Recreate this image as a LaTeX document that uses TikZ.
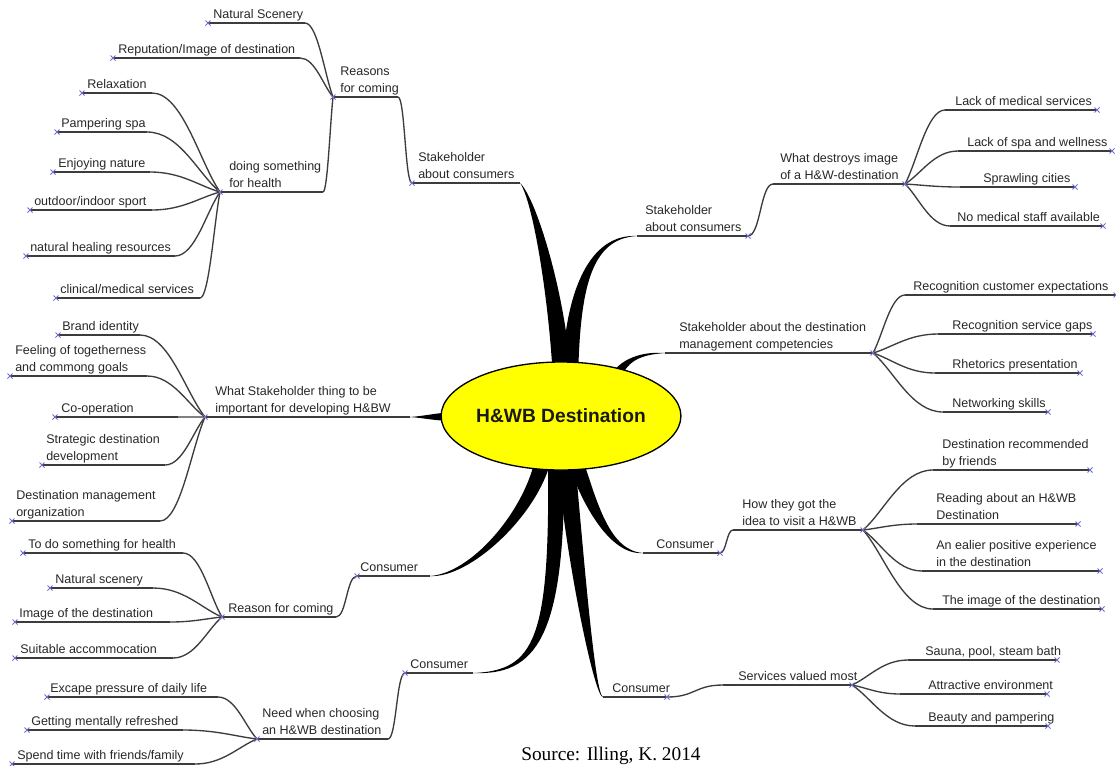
\documentclass[tikz,border=0pt]{standalone}
\usepackage{fontspec}
\setmainfont{Liberation Sans}
\newfontfamily\srcfont{Liberation Serif}
\usetikzlibrary{calc,shapes.geometric}
\definecolor{txt}{RGB}{40,40,40}
\definecolor{ln}{RGB}{60,60,60}
\definecolor{mk}{RGB}{110,110,205}
\definecolor{hubyellow}{RGB}{255,255,0}
\tikzset{
  tp/.style={anchor=south west, inner sep=0pt, align=left, text=txt,
    font=\fontsize{9.4}{12.75}\selectfont},
  uline/.style={draw=ln, line width=1.1pt},
  conn/.style={draw=ln, line width=1pt},
  xm/.style={draw=mk, line width=0.6pt},
  stemfill/.style={fill=black},
}
% topic: name, left end, right end, y of the underline, x of the text, text
\newcommand\tpc[6]{%
  \coordinate (#1-a) at (#2,#4);
  \coordinate (#1-b) at (#3,#4);
  \draw[uline] (#1-a) -- (#1-b);
  \node[tp] (#1) at (#5,#4) {#6\rule[-3.3pt]{0pt}{1pt}};
}
% branch from a junction to a sub-topic
\newcommand\tfan[2]{\draw[conn] (#1) .. controls ($(#1)!0.3!(#2)$) and ($(#2)!0.45!(#2 -| #1)$) .. (#2);}
% S-shaped link between two topic lines
\newcommand\tlink[2]{\draw[conn] (#1) .. controls ($(#1)!0.5!(#1 -| #2)$) and ($(#2)!0.5!(#2 -| #1)$) .. (#2);}
% small mark at the free end of a topic line
\newcommand\tipmark[1]{\draw[xm] (#1) +(-2.5,-2.5) -- +(2.5,2.5) +(-2.5,2.5) -- +(2.5,-2.5);}
% tapered main branch: start, control 1, control 2, end, half width, shift of control 2
\newcommand\stem[6]{\fill[stemfill] ($(#1)+(-#5,0)$) .. controls ($(#2)+(-#5,0)$) and ($(#3)+(#6)$) .. (#4)
  .. controls ($(#3)-(#6)$) and ($(#2)+(#5,0)$) .. ($(#1)+(#5,0)$) -- cycle;}

\begin{document}
\begin{tikzpicture}[x=0.75pt,y=-0.75pt]
\useasboundingbox (0,0) rectangle (1116,765);
\clip (0,0) rectangle (1116,765);
\fill[white] (0,0) rectangle (1116,765);

% ---------- upper left: stakeholder about consumers
\tpc{sa}{412}{520}{183}{418}{Stakeholder\\about consumers}
\tpc{rc}{333}{398}{97}{340}{Reasons\\for coming}
\tpc{ns}{208}{305}{23}{213}{Natural Scenery}
\tpc{rep}{113}{300}{58}{118}{Reputation/Image of destination}
\tpc{dsh}{220}{323}{192}{229}{doing something\\for health}
\tpc{relax}{82}{152}{93}{87}{Relaxation}
\tpc{pamp}{57}{147}{132}{61}{Pampering spa}
\tpc{enj}{53}{150}{172}{58}{Enjoying nature}
\tpc{sport}{30}{152}{210}{34}{outdoor/indoor sport}
\tpc{heal}{26}{175}{256}{30}{natural healing resources}
\tpc{clin}{56}{200}{298}{60}{clinical/medical services}

% ---------- left: what matters for development
\tpc{wst}{205}{410}{417}{215}{What Stakeholder thing to be\\important for developing H\&BW}
\tpc{brand}{58}{140}{335}{62}{Brand identity}
\tpc{feel}{10}{147}{376}{15}{Feeling of togetherness\\and commong goals}
\tpc{coop}{55}{178}{417}{61}{Co-operation}
\tpc{strat}{42}{165}{465}{46}{Strategic destination\\development}
\tpc{dmo}{12}{160}{521}{16}{Destination management\\organization}

% ---------- lower left: consumers
\tpc{cl}{357}{430}{576}{360}{Consumer}
\tpc{rfc}{222}{336}{617}{228}{Reason for coming}
\tpc{todo}{23}{183}{553}{28}{To do something for health}
\tpc{nsc}{50}{153}{588}{55}{Natural scenery}
\tpc{img}{15}{170}{622}{19}{Image of the destination}
\tpc{suit}{15}{173}{658}{20}{Suitable accommocation}
\tpc{cb}{405}{473}{673}{410}{Consumer}
\tpc{need}{257}{388}{739}{262}{Need when choosing\\an H\&WB destination}
\tpc{esc}{47}{218}{697}{50}{Excape pressure of daily life}
\tpc{fresh}{27}{183}{730}{31}{Getting mentally refreshed}
\tpc{spend}{12}{195}{764}{17}{Spend time with friends/family}

% ---------- upper right
\tpc{sr}{637}{748}{236}{645}{Stakeholder\\about consumers}
\tpc{wd}{773}{905}{184}{780}{What destroys image\\of a H\&W-destination}
\tpc{lms}{945}{1097}{110}{955}{Lack of medical services}
\tpc{lsw}{958}{1112}{151}{967}{Lack of spa and wellness}
\tpc{spr}{960}{1075}{187}{983}{Sprawling cities}
\tpc{nms}{950}{1103}{226}{957}{No medical staff available}

\tpc{sdm}{665}{873}{353}{679}{Stakeholder about the destination\\management competencies}
\tpc{rce}{905}{1116}{295}{913}{Recognition customer expectations}
\tpc{rsg}{938}{1093}{334}{952}{Recognition service gaps}
\tpc{rp}{935}{1080}{373}{952}{Rhetorics presentation}
\tpc{nsk}{943}{1048}{412}{952}{Networking skills}

% ---------- lower right
\tpc{cr}{643}{720}{553}{656}{Consumer}
\tpc{how}{733}{863}{530}{742}{How they got the\\idea to visit a H\&WB}
\tpc{drf}{933}{1090}{470}{942}{Destination recommended\\by friends}
\tpc{rab}{917}{1078}{524}{936}{Reading about an H\&WB\\Destination}
\tpc{epe}{922}{1100}{571}{936}{An ealier positive experience\\in the destination}
\tpc{tid}{933}{1102}{609}{942}{The image of the destination}

\tpc{cs}{603}{667}{697}{612}{Consumer}
\tpc{svm}{723}{852}{685}{738}{Services valued most}
\tpc{spb}{908}{1057}{660}{925}{Sauna, pool, steam bath}
\tpc{ae}{900}{1047}{694}{928}{Attractive environment}
\tpc{bp}{915}{1048}{726}{928}{Beauty and pampering}

% ---------- thin connectors
\tlink{sa-a}{rc-b}
\foreach \c in {ns,rep,dsh} {\tfan{rc-a}{\c-b}}
\foreach \c in {relax,pamp,enj,sport,heal,clin} {\tfan{dsh-a}{\c-b}}
\foreach \c in {brand,feel,coop,strat,dmo} {\tfan{wst-a}{\c-b}}
\tlink{cl-a}{rfc-b}
\foreach \c in {todo,nsc,img,suit} {\tfan{rfc-a}{\c-b}}
\tlink{cb-a}{need-b}
\foreach \c in {esc,fresh,spend} {\tfan{need-a}{\c-b}}
\tlink{sr-b}{wd-a}
\foreach \c in {lms,lsw,spr,nms} {\tfan{wd-b}{\c-a}}
\foreach \c in {rce,rsg,rp,nsk} {\tfan{sdm-b}{\c-a}}
\tlink{cr-b}{how-a}
\foreach \c in {drf,rab,epe,tid} {\tfan{how-b}{\c-a}}
\tlink{cs-b}{svm-a}
\foreach \c in {spb,ae,bp} {\tfan{svm-b}{\c-a}}

% ---------- thick main branches
\coordinate (hub) at (561,416);
\coordinate (s1) at ($(hub)+(1,-36)$);
\coordinate (s2) at ($(hub)+(9,-36)$);
\coordinate (s3) at ($(hub)+(51,-31)$);
\coordinate (s5) at ($(hub)+(14,44)$);
\coordinate (s6) at ($(hub)+(-18,44)$);
\coordinate (s7) at ($(hub)+(-5,44)$);
\coordinate (s8) at ($(hub)+(5,44)$);
\stem{s1}{558,300}{535,200}{sa-b}{9}{-2,1}
\stem{s2}{572,290}{590,236}{sr-a}{8}{0,-2.5}
\stem{s3}{620,360}{640,353}{sdm-a}{6}{0,-2}
\stem{s5}{590,505}{610,553}{cr-a}{8}{0,2.5}
\stem{s6}{530,515}{470,576}{cl-b}{8}{0,-2.5}
\stem{s7}{558,640}{535,673}{cb-b}{8}{0,-2.5}
\stem{s8}{575,560}{595,697}{cs-a}{9}{0,2.5}
\fill[stemfill] ($(hub)+(-90,-5.5)$) .. controls (440,412) and (425,416) .. (wst-b)
  .. controls (425,418) and (440,422) .. ($(hub)+(-90,5.5)$) -- cycle;

% ---------- central topic
\node[ellipse, draw=black, line width=1pt, fill=hubyellow, minimum width=159pt,
  minimum height=81pt, inner sep=0pt, text=black!90,
  font=\fontsize{14.4}{16}\selectfont\bfseries] (hubnode) at (hub) {H\&WB Destination};

% ---------- marks at the free ends of the topic lines
\foreach \c in {sa,rc,ns,rep,dsh,relax,pamp,enj,sport,heal,clin,wst,brand,feel,coop,strat,dmo,
  cl,rfc,todo,nsc,img,suit,cb,need,esc,fresh,spend} {\tipmark{\c-a}}
\foreach \c in {sr,wd,lms,lsw,spr,nms,sdm,rce,rsg,rp,nsk,cr,how,drf,rab,epe,tid,cs,svm,spb,ae,bp}
  {\tipmark{\c-b}}

% ---------- source line
\node[anchor=base west, inner sep=0pt, font=\srcfont\fontsize{14.5}{16}\selectfont] (src)
  at (521,760) {Source: Illing, K. 2014};
\end{tikzpicture}
\end{document}
